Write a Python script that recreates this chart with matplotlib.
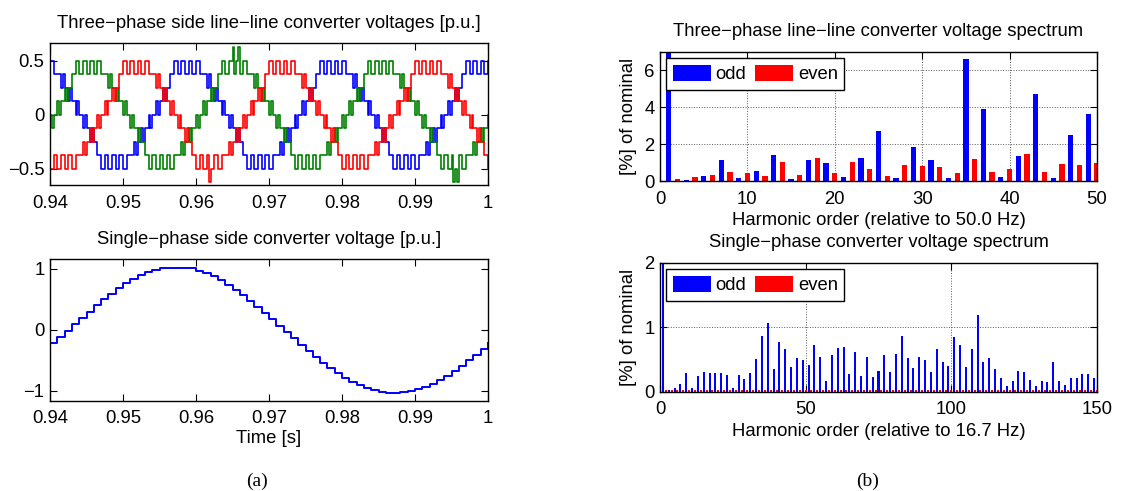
import matplotlib
matplotlib.use('Agg')
import matplotlib.pyplot as plt
import numpy as np

plt.rcParams['font.family'] = ['Liberation Sans', 'DejaVu Sans']
plt.rcParams['axes.unicode_minus'] = True

# ---- data ----
# three-phase line-line voltages, 0.25 ms steps from 0.94 s, levels in 1/8 p.u.
t_start = 0.94
dt_3ph = 0.00025
v_blue = [4, 4, 3, 3, 3, 3, 2, 3, 2, 2, 1, 2, 1, 1, 0, 1, 0, 0, -1, 0,
          -1, -1, -2, -1, -2, -2, -3, -3, -4, -4, -3, -3, -4, -4, -3, -3, -4, -4, -3, -3,
          -4, -4, -3, -3, -3, -3, -2, -3, -2, -2, -1, -2, -1, -1, 0, -1, 0, 0, 1, 0,
          1, 1, 2, 1, 2, 2, 3, 3, 4, 4, 3, 3, 4, 4, 3, 3, 4, 4, 3, 3,
          4, 4, 3, 3, 3, 3, 2, 3, 2, 2, 1, 2, 1, 1, 0, 1, 0, 0, -1, 0,
          -1, -1, -2, -1, -2, -2, -3, -3, -4, -4, -3, -3, -4, -4, -3, -3, -4, -4, -3, -3,
          -4, -4, -3, -3, -3, -3, -2, -3, -2, -2, -1, -2, -1, -1, 0, -1, 0, 0, 1, 0,
          1, 1, 2, 1, 2, 2, 3, 3, 4, 4, 3, 3, 4, 4, 3, 3, 4, 4, 3, 3,
          4, 4, 3, 3, 3, 3, 2, 3, 2, 2, 1, 2, 1, 1, 0, 1, 0, 0, -1, 0,
          -1, -1, -2, -1, -2, -2, -3, -3, -4, -4, -3, -3, -4, -4, -3, -3, -4, -4, -3, -3,
          -4, -4, -3, -3, -3, -3, -2, -3, -2, -2, -1, -2, -1, -1, 0, -1, 0, 0, 1, 0,
          1, 1, 2, 1, 2, 2, 3, 3, 4, 4, 3, 3, 4, 4, 3, 3, 4, 4, 3, 3,
          4]
v_green = [0, -1, 0, 0, 1, 0, 1, 1, 2, 1, 2, 2, 3, 3, 4, 4, 3, 3, 4, 4,
           3, 3, 4, 4, 3, 3, 4, 4, 3, 3, 3, 3, 2, 3, 2, 2, 1, 2, 1, 1,
           0, 1, 0, 0, -1, 0, -1, -1, -2, -1, -2, -2, -3, -3, -4, -4, -3, -3, -4, -4,
           -3, -3, -4, -4, -3, -3, -4, -4, -3, -3, -3, -3, -2, -3, -2, -2, -1, -2, -1, -1,
           0, -1, 0, 0, 1, 0, 1, 1, 2, 1, 2, 2, 3, 3, 4, 4, 3, 3, 4, 4,
           5, 3, 4, 5, 3, 3, 4, 4, 3, 3, 3, 3, 2, 3, 2, 2, 1, 2, 1, 1,
           0, 1, 0, 0, -1, 0, -1, -1, -2, -1, -2, -2, -3, -3, -4, -4, -3, -3, -4, -4,
           -3, -3, -4, -4, -3, -3, -4, -4, -3, -3, -3, -3, -2, -3, -2, -2, -1, -2, -1, -1,
           0, -1, 0, 0, 1, 0, 1, 1, 2, 1, 2, 2, 3, 3, 4, 4, 3, 3, 4, 4,
           3, 3, 4, 4, 3, 3, 4, 4, 3, 3, 3, 3, 2, 3, 2, 2, 1, 2, 1, 1,
           0, 1, 0, 0, -1, 0, -1, -1, -2, -1, -2, -2, -3, -3, -4, -4, -3, -3, -4, -4,
           -3, -5, -4, -5, -3, -3, -4, -4, -3, -3, -3, -3, -2, -3, -2, -2, -1, -2, -1, -1,
           0]
v_red = [-4, -4, -3, -3, -4, -4, -3, -3, -4, -4, -3, -3, -4, -4, -3, -3, -3, -3, -2, -3,
         -2, -2, -1, -2, -1, -1, 0, -1, 0, 0, 1, 0, 1, 1, 2, 1, 2, 2, 3, 3,
         4, 4, 3, 3, 4, 4, 3, 3, 4, 4, 3, 3, 4, 4, 3, 3, 3, 3, 2, 3,
         2, 2, 1, 2, 1, 1, 0, 1, 0, 0, -1, 0, -1, -1, -2, -1, -2, -2, -3, -3,
         -4, -4, -3, -3, -4, -4, -3, -5, -4, -4, -3, -3, -4, -4, -3, -3, -3, -3, -2, -3,
         -2, -2, -1, -2, -1, -1, 0, -1, 0, 0, 1, 0, 1, 1, 2, 1, 2, 2, 3, 3,
         4, 4, 3, 3, 4, 4, 3, 3, 4, 4, 3, 3, 4, 4, 3, 3, 3, 3, 2, 3,
         2, 2, 1, 2, 1, 1, 0, 1, 0, 0, -1, 0, -1, -1, -2, -1, -2, -2, -3, -3,
         -4, -4, -3, -3, -4, -4, -3, -3, -4, -4, -3, -3, -4, -4, -3, -3, -3, -3, -2, -3,
         -2, -2, -1, -2, -1, -1, 0, -1, 0, 0, 1, 0, 1, 1, 2, 1, 2, 2, 3, 3,
         4, 4, 3, 3, 4, 4, 3, 3, 4, 4, 3, 3, 4, 4, 3, 3, 3, 3, 2, 3,
         2, 2, 1, 2, 1, 1, 0, 1, 0, 0, -1, 0, -1, -1, -2, -1, -2, -2, -3, -3,
         -4]

# single-phase converter voltage, 1 ms steps [p.u.]
dt_1ph = 0.001
v_single = [-0.21, -0.12, -0.02, 0.09, 0.19, 0.30, 0.40, 0.50, 0.59, 0.68,
            0.76, 0.83, 0.89, 0.94, 0.98, 1.01, 1.02, 1.02, 1.02, 1.01,
            0.97, 0.93, 0.88, 0.82, 0.74, 0.66, 0.57, 0.48, 0.38, 0.28,
            0.17, 0.07, -0.04, -0.14, -0.25, -0.35, -0.45, -0.54, -0.63, -0.71,
            -0.79, -0.86, -0.91, -0.96, -0.99, -1.02, -1.03, -1.03, -1.02, -1.00,
            -0.97, -0.93, -0.88, -0.82, -0.75, -0.67, -0.59, -0.50, -0.41, -0.31,
            -0.22]

# three-phase spectrum [% of nominal]
odd_3ph = [100, 0.05, 0.27, 1.14, 0.16, 0.54, 1.41, 0.11, 1.14, 0.98,
           0.22, 1.25, 2.72, 0.16, 1.85, 1.14, 0.16, 6.63, 3.91, 0.22,
           1.36, 4.73, 0.16, 2.50, 3.64]
even_3ph = [0.11, 0.22, 0.33, 0.49, 0.43, 0.27, 1.03, 0.33, 1.25, 0.43,
            1.03, 0.65, 0.27, 0.87, 0.82, 0.76, 0.43, 1.20, 0.49, 0.65,
            1.47, 0.49, 0.92, 0.87, 0.98]

# single-phase spectrum [% of nominal]
odd_1ph = [100, 0.02, 0.05, 0.12, 0.29, 0.06, 0.24, 0.31, 0.29, 0.29,
           0.29, 0.26, 0.06, 0.26, 0.20, 0.29, 0.51, 0.87, 1.07, 0.35,
           0.77, 0.66, 0.38, 0.52, 0.49, 0.41, 0.73, 0.54, 0.17, 0.57,
           0.68, 0.69, 0.27, 0.62, 0.24, 0.54, 0.23, 0.32, 0.57, 0.31,
           0.59, 0.87, 0.52, 0.37, 0.54, 0.49, 0.31, 0.66, 0.46, 0.40,
           0.85, 0.73, 0.38, 0.66, 1.19, 0.46, 0.52, 0.35, 0.21, 0.09,
           0.17, 0.32, 0.31, 0.18, 0.09, 0.17, 0.15, 0.46, 0.17, 0.10,
           0.21, 0.21, 0.27, 0.27, 0.21]
even_1ph = [0.03, 0.02, 0.03, 0.02, 0.02, 0.03, 0.02, 0.02, 0.03, 0.02,
            0.02, 0.03, 0.02, 0.02, 0.03, 0.02, 0.02, 0.02, 0.03, 0.02,
            0.02, 0.02, 0.03, 0.02, 0.02, 0.03, 0.02, 0.02, 0.02, 0.02,
            0.03, 0.02, 0.02, 0.02, 0.03, 0.02, 0.02, 0.02, 0.02, 0.03,
            0.02, 0.02, 0.02, 0.03, 0.02, 0.02, 0.02, 0.03, 0.02, 0.02,
            0.02, 0.03, 0.02, 0.02, 0.02, 0.02, 0.03, 0.02, 0.02, 0.02,
            0.02, 0.03, 0.02, 0.02, 0.03, 0.02, 0.02, 0.02, 0.03, 0.02,
            0.02, 0.02, 0.03, 0.02, 0.02]

time_ticks = [0.94, 0.95, 0.96, 0.97, 0.98, 0.99, 1.0]
time_labels = ['0.94', '0.95', '0.96', '0.97', '0.98', '0.99', '1']

FS = 13.3
BLUE = (0, 0, 1)
RED = (1, 0, 0)
GREEN = (0, 0.5, 0)


def style(ax):
    ax.tick_params(direction='in', top=True, right=True, length=5,
                   width=0.8, labelsize=FS, pad=7)
    ax.tick_params(axis='y', pad=4)
    for s in ax.spines.values():
        s.set_linewidth(1.0)


fig = plt.figure(figsize=(11.41, 4.91), dpi=100)
W, H = 1141.0, 491.0


def axes_px(x0, y0, x1, y1):
    return fig.add_axes([x0 / W, 1 - y1 / H, (x1 - x0) / W, (y1 - y0) / H])


# ---- (a) top: three-phase ----
ax1 = axes_px(50, 43.3, 488, 185)
t3 = t_start + dt_3ph * np.arange(len(v_blue))
for vals, col in [(v_blue, BLUE), (v_green, GREEN), (v_red, RED)]:
    ax1.plot(t3, np.array(vals) / 8.0, color=col, lw=1.2, drawstyle='steps-post')
ax1.set_xlim(0.94, 1.0)
ax1.set_ylim(-0.65, 0.66)
ax1.set_xticks(time_ticks)
ax1.set_xticklabels(time_labels)
ax1.set_yticks([-0.5, 0, 0.5])
ax1.set_yticklabels(['\u22120.5', '0', '0.5'])
ax1.set_title('Three\u2212phase side line\u2212line converter voltages [p.u.]',
              fontsize=FS, pad=11)
style(ax1)

# ---- (a) bottom: single-phase ----
ax2 = axes_px(50, 259, 488, 400.7)
t1 = t_start + dt_1ph * np.arange(len(v_single))
ax2.plot(t1, v_single, color=BLUE, lw=1.4, drawstyle='steps-post')
ax2.set_xlim(0.94, 1.0)
ax2.set_ylim(-1.16, 1.16)
ax2.set_xticks(time_ticks)
ax2.set_xticklabels(time_labels)
ax2.set_yticks([-1, 0, 1])
ax2.set_yticklabels(['\u22121', '0', '1'])
ax2.set_xlabel('Time [s]', fontsize=FS, labelpad=2)
ax2.set_title('Single\u2212phase side converter voltage [p.u.]', fontsize=FS, pad=11)
style(ax2)


def spectrum(ax, odd, even, xmax, ymax, xticks, yticks, bw, base, title):
    h_odd = np.arange(1, 2 * len(odd), 2)
    h_even = np.arange(2, 2 * len(even) + 1, 2)
    ax.bar(h_odd, odd, width=bw, color=BLUE, linewidth=0, label='odd', zorder=2)
    ax.bar(h_even, even, width=bw, color=RED, linewidth=0, label='even', zorder=2)
    ax.set_xlim(0, xmax)
    ax.set_ylim(0, ymax)
    ax.set_xticks(xticks)
    ax.set_yticks(yticks)
    ax.grid(True, linestyle=':', color='0.35', linewidth=0.7, zorder=0)
    ax.set_axisbelow(True)
    ax.set_xlabel('Harmonic order (relative to %s Hz)' % base, fontsize=FS, labelpad=3)
    ax.set_ylabel('[%] of nominal', fontsize=FS, labelpad=5)
    ax.set_title(title, fontsize=FS, pad=11)
    leg = ax.legend(loc='upper left', ncol=2, fontsize=FS, handlelength=2.05,
                    handleheight=1.0, handletextpad=0.25, columnspacing=0.5,
                    borderpad=0.35, borderaxespad=0.35, fancybox=False,
                    framealpha=1, edgecolor='black')
    leg.get_frame().set_linewidth(1.0)
    style(ax)


ax3 = axes_px(660, 51.7, 1097, 181)
spectrum(ax3, odd_3ph, even_3ph, 50, 7, [0, 10, 20, 30, 40, 50], [0, 2, 4, 6], 0.6,
         '50.0', 'Three\u2212phase line\u2212line converter voltage spectrum')

ax4 = axes_px(660, 262.7, 1097, 391.7)
spectrum(ax4, odd_1ph, even_1ph, 150, 2, [0, 50, 100, 150], [0, 1, 2], 0.69,
         '16.7', 'Single\u2212phase converter voltage spectrum')

# captions
fig.text(257 / W, 1 - 481 / H, '(a)', ha='center', va='center', fontsize=14,
         family=['Liberation Serif', 'DejaVu Serif'])
fig.text(868 / W, 1 - 481 / H, '(b)', ha='center', va='center', fontsize=14,
         family=['Liberation Serif', 'DejaVu Serif'])

fig.savefig('out.png', dpi=100)
